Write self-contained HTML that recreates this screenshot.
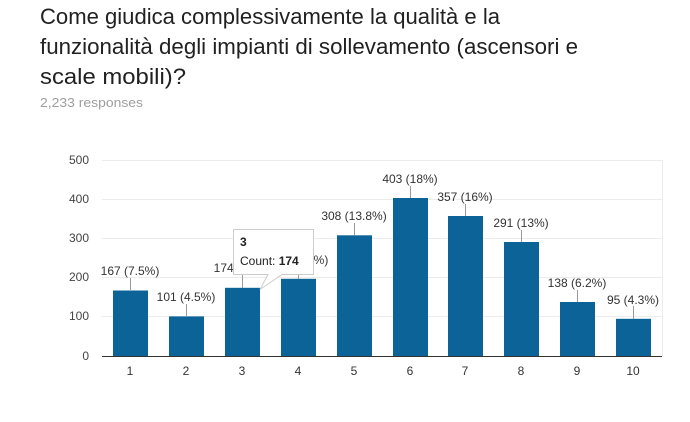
<!DOCTYPE html>
<html><head><meta charset="utf-8"><style>
html,body{margin:0;padding:0;background:#fff;}
svg{display:block;font-family:"Liberation Sans",Arial,sans-serif;}
</style></head><body>
<svg width="690" height="422" viewBox="0 0 690 422" xmlns="http://www.w3.org/2000/svg">
<text x="40" y="24" font-size="22" fill="#212121" textLength="460" lengthAdjust="spacingAndGlyphs">Come giudica complessivamente la qualità e la</text>
<text x="40" y="54" font-size="22" fill="#212121" textLength="538" lengthAdjust="spacingAndGlyphs">funzionalità degli impianti di sollevamento (ascensori e</text>
<text x="40" y="84" font-size="22" fill="#212121" textLength="146" lengthAdjust="spacingAndGlyphs">scale mobili)?</text>
<text x="40" y="107" font-size="13" fill="#9e9e9e" textLength="103" lengthAdjust="spacingAndGlyphs">2,233 responses</text>
<g stroke="#ececec" stroke-width="1">
<line x1="102" y1="160.5" x2="662" y2="160.5"/>
<line x1="102" y1="199.5" x2="662" y2="199.5"/>
<line x1="102" y1="238.5" x2="662" y2="238.5"/>
<line x1="102" y1="277.5" x2="662" y2="277.5"/>
<line x1="102" y1="316.5" x2="662" y2="316.5"/>
<line x1="662.5" y1="160" x2="662.5" y2="356"/>
</g>
<g font-size="12" fill="#444" text-anchor="end">
<text x="89" y="164">500</text><text x="89" y="203">400</text><text x="89" y="242">300</text><text x="89" y="281">200</text><text x="89" y="320">100</text><text x="89" y="360">0</text>
</g>
<g fill="#0b6398">
<rect x="113" y="290.5" width="35" height="65.5"/>
<rect x="169" y="316.4" width="35" height="39.6"/>
<rect x="225" y="287.8" width="35" height="68.2"/>
<rect x="281" y="278.8" width="35" height="77.2"/>
<rect x="337" y="235.3" width="35" height="120.7"/>
<rect x="393" y="198" width="35" height="158"/>
<rect x="448" y="216" width="35" height="140"/>
<rect x="504" y="242" width="35" height="114"/>
<rect x="560" y="302" width="35" height="54"/>
<rect x="616" y="318.8" width="35" height="37.2"/>
</g>
<line x1="102" y1="356.5" x2="662" y2="356.5" stroke="#333" stroke-width="1"/>
<g stroke="#999" stroke-width="1">
<line x1="130.5" y1="278" x2="130.5" y2="290"/>
<line x1="186.5" y1="304" x2="186.5" y2="316"/>
<line x1="242.5" y1="275" x2="242.5" y2="288"/>
<line x1="298.5" y1="266" x2="298.5" y2="279"/>
<line x1="354.5" y1="223" x2="354.5" y2="235"/>
<line x1="410.5" y1="186" x2="410.5" y2="198"/>
<line x1="465.5" y1="204" x2="465.5" y2="216"/>
<line x1="521.5" y1="230" x2="521.5" y2="242"/>
<line x1="577.5" y1="290" x2="577.5" y2="302"/>
<line x1="633.5" y1="306" x2="633.5" y2="319"/>
</g>
<g font-size="12" fill="#333" text-anchor="middle">
<text x="130" y="275">167 (7.5%)</text>
<text x="186" y="301">101 (4.5%)</text>
<text x="243" y="272">174 (7.8%)</text>
<text x="299" y="264">197 (8.8%)</text>
<text x="354" y="220">308 (13.8%)</text>
<text x="410" y="183">403 (18%)</text>
<text x="465" y="201">357 (16%)</text>
<text x="521" y="227">291 (13%)</text>
<text x="577" y="287">138 (6.2%)</text>
<text x="633" y="304">95 (4.3%)</text>
</g>
<g font-size="12" fill="#333" text-anchor="middle">
<text x="130" y="375">1</text><text x="186" y="375">2</text><text x="242" y="375">3</text><text x="298" y="375">4</text><text x="354" y="375">5</text><text x="410" y="375">6</text><text x="465" y="375">7</text><text x="521" y="375">8</text><text x="577" y="375">9</text><text x="633" y="375">10</text>
</g>
<path d="M233.5 229.5 H313.5 V274.5 H282 L260 289.5 L268 274.5 H233.5 Z" fill="#fff" stroke="#ccc" stroke-width="1"/>
<text x="240" y="246" font-size="12" font-weight="bold" fill="#222">3</text>
<text x="240" y="265" font-size="12" fill="#222">Count: <tspan font-weight="bold">174</tspan></text>
</svg>
</body></html>
